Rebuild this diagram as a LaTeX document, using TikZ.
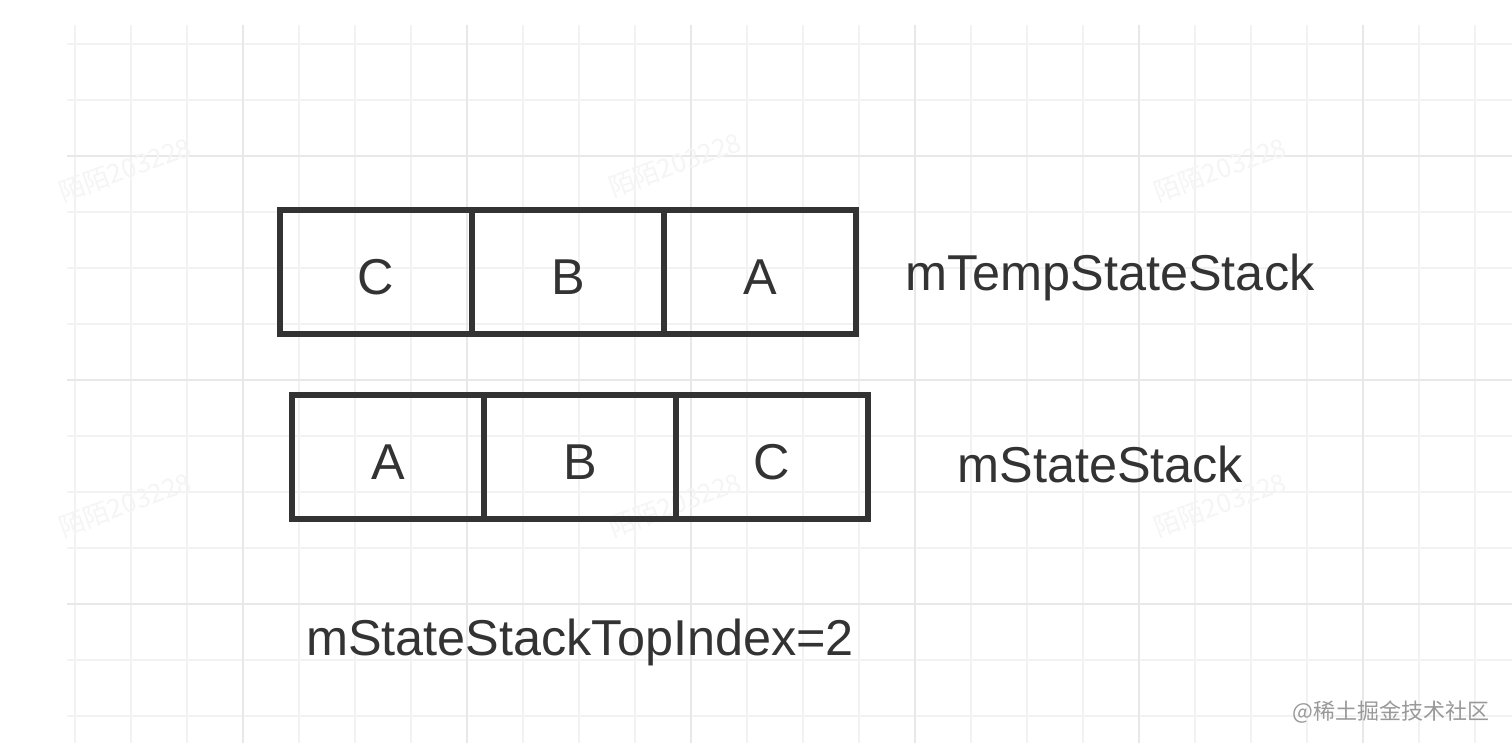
\documentclass[tikz,border=0pt]{standalone}
\usepackage{fontspec}
\setmainfont{Liberation Sans}
\newfontfamily\cjkfont{Noto Sans CJK SC}
\usepackage{xcolor}
\usetikzlibrary{positioning}

\definecolor{ink}{HTML}{333333}
\definecolor{gridthin}{HTML}{F2F2F2}
\definecolor{gridthick}{HTML}{E8E8E8}

\tikzset{
  cell/.style={draw=ink, line width=3pt, minimum width=96pt, minimum height=62pt,
    inner sep=0pt, outer sep=0pt, text=ink, text height=23pt, text depth=0pt,
    font=\fontsize{25.2}{30}\selectfont},
  stacklabel/.style={text=ink, inner sep=0pt, font=\fontsize{25.2}{30}\selectfont},
  mark text/.style={text=black!4, rotate=20, inner sep=0pt,
    font=\cjkfont\fontsize{13}{15}\selectfont}
}

\begin{document}
\begin{tikzpicture}[x=0.5pt, y=-0.5pt]
\useasboundingbox (0,0) rectangle (1512,743);
\fill[white] (0,0) rectangle (1512,743);

% grid paper
\foreach \k in {0,...,25}
  \draw[gridthin, line width=1.2pt] (75+56*\k,25) -- (75+56*\k,743);
\foreach \k in {0,...,12}
  \draw[gridthin, line width=1.2pt] (67,44+56*\k) -- (1512,44+56*\k);
\foreach \k in {3,7,...,23}
  \draw[gridthick, line width=1.4pt] (75+56*\k,25) -- (75+56*\k,743);
\foreach \k in {2,6,10}
  \draw[gridthick, line width=1.4pt] (67,44+56*\k) -- (1512,44+56*\k);

% watermarks
\foreach \wx/\wy in {125/170, 675/165, 1220/170, 125/505, 675/505, 1220/505}
  \node[mark text] at (\wx,\wy) {陌陌203228};

% mTempStateStack
\node[cell] (t1) at (376,272) {C};
\node[cell, right=0pt of t1] (t2) {B};
\node[cell, right=0pt of t2] (t3) {A};
\node[stacklabel, anchor=west] (tlabel) at (905,277) {mTempStateStack};

% mStateStack
\node[cell] (s1) at (388,457) {A};
\node[cell, right=0pt of s1] (s2) {B};
\node[cell, right=0pt of s2] (s3) {C};
\node[stacklabel, anchor=west] (slabel) at (957,464) {mStateStack};

\node[stacklabel] (topindex) at (580,642) {mStateStackTopIndex=2};

\node[text=black!40, inner sep=0pt, font=\cjkfont\fontsize{11}{13}\selectfont,
  anchor=east] (source) at (1490,712) {@稀土掘金技术社区};
\end{tikzpicture}
\end{document}
